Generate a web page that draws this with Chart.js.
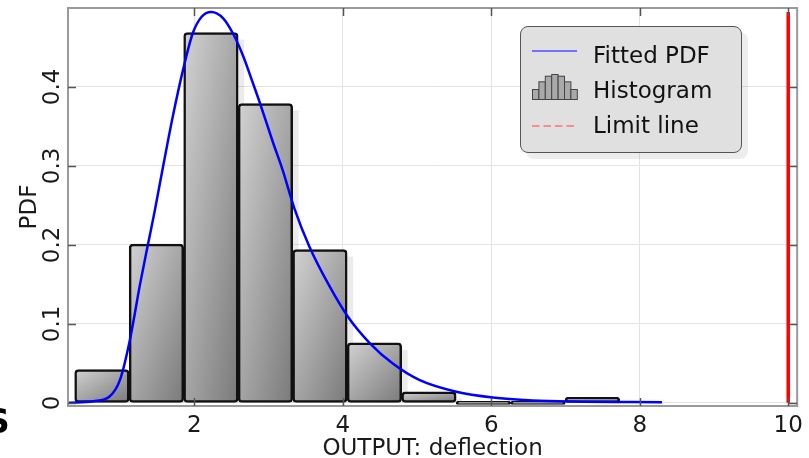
<!DOCTYPE html>
<html>
<head>
<meta charset="utf-8">
<script src="https://cdn.jsdelivr.net/npm/chart.js"></script>
<style>
  body { margin: 0; background: #fff; }
  #wrap { position: relative; width: 809px; height: 458px; overflow: hidden; font-family: 'DejaVu Sans', sans-serif; }
  #grafico { position: absolute; left: 0; top: 0; }
  .lg { position: absolute; font-size: 23px; line-height: 23px; color: #111; white-space: nowrap; }
  #legenda { position: absolute; left: 520px; top: 26px; width: 222px; height: 127px; box-sizing: border-box;
    border: 1px solid #555; border-radius: 8px; background: #e0e0e0; box-shadow: 6px 6px 0 rgba(0,0,0,0.07); }
  #letra { position: absolute; left: -14px; top: 405px; font: bold 33px 'DejaVu Sans', sans-serif; line-height: 33px; color: #000; }
</style>
</head>
<body>
<div id="wrap">
  <canvas id="grafico" width="809" height="458"></canvas>
  <div id="legenda"></div>
  <svg style="position:absolute;left:532px;top:46px" width="46" height="10"><line x1="0" y1="5" x2="45" y2="5" stroke="#7272ff" stroke-width="2"/></svg>
  <svg style="position:absolute;left:531px;top:73px" width="48" height="28">
    <g fill="#a9a9a9" stroke="#444" stroke-width="1">
      <rect x="1.5" y="16.5" width="6.4" height="10"/>
      <rect x="7.9" y="8.8" width="6.4" height="17.7"/>
      <rect x="14.3" y="3.2" width="6.4" height="23.3"/>
      <rect x="20.7" y="1.5" width="6.4" height="25"/>
      <rect x="27.1" y="3.2" width="6.4" height="23.3"/>
      <rect x="33.5" y="8.8" width="6.4" height="17.7"/>
      <rect x="39.9" y="16.5" width="6.4" height="10"/>
    </g>
  </svg>
  <svg style="position:absolute;left:532px;top:121px" width="46" height="10"><line x1="0" y1="5" x2="45" y2="5" stroke="#ff7272" stroke-width="1.5" stroke-dasharray="7.5 4"/></svg>
  <span class="lg" style="left:593px;top:44px">Fitted PDF</span>
  <span class="lg" style="left:593px;top:79px">Histogram</span>
  <span class="lg" style="left:593px;top:114px">Limit line</span>
  <span id="letra">S</span>
</div>
<script>
// bordas dos intervalos do histograma e alturas (densidade)
const binEdges = [0.39, 1.124, 1.858, 2.592, 3.326, 4.06, 4.794, 5.528, 6.262, 6.996, 7.73];
const histValues = [0.042, 0.201, 0.469, 0.379, 0.194, 0.076, 0.014, 0, 0, 0.007];

// curva ajustada
const pdfX = [0.3, 0.64, 0.86, 1.0, 1.13, 1.27, 1.38, 1.47, 1.58, 1.71, 1.85, 1.98, 2.1, 2.23, 2.39, 2.52, 2.66, 2.79, 2.88, 3.06, 3.19, 3.35, 3.55, 3.82, 4.07, 4.36, 4.67, 5.03, 5.53, 6.02, 6.56, 7.1, 8.3];
const pdfY = [0, 0.002, 0.008, 0.029, 0.078, 0.15, 0.202, 0.244, 0.299, 0.362, 0.422, 0.468, 0.489, 0.495, 0.487, 0.468, 0.439, 0.405, 0.381, 0.33, 0.295, 0.246, 0.198, 0.148, 0.109, 0.076, 0.05, 0.029, 0.014, 0.0067, 0.003, 0.0016, 0.0008];

// linha limite
const limitX = [10, 10];
const limitY = [0, 0.495];

const xTicks = [2, 4, 6, 8, 10];
const yTicks = [0, 0.1, 0.2, 0.3, 0.4];
const yTickLabels = ['0', '0.1', '0.2', '0.3', '0.4'];

const fonte = "'DejaVu Sans', sans-serif";

// degrade em diagonal, como nas barras do original
function gradienteBarra(c2d, l, t, w, h) {
    const k = 2 * w * h / (w * w + h * h);
    const g = c2d.createLinearGradient(l, t, l + h * k, t + w * k);
    g.addColorStop(0, '#d2d2d2');
    g.addColorStop(1, '#7a7a7a');
    return g;
}

const moldura = {
    id: 'moldura',
    beforeDatasetsDraw(chart) {
        const ctx = chart.ctx;
        const meta = chart.getDatasetMeta(0);
        ctx.save();
        ctx.fillStyle = 'rgba(0,0,0,0.08)';
        meta.data.forEach(bar => {
            const p = bar.getProps(['x', 'y', 'base', 'width'], true);
            const l = p.x - p.width / 2;
            const t = Math.min(p.y, p.base);
            const h = Math.max(Math.abs(p.base - p.y), 3);
            if (isFinite(l) && isFinite(t)) bar.options.backgroundColor = gradienteBarra(ctx, l, t, p.width, h);
            if (h - 7 > 0) ctx.fillRect(l + 6, t + 7, p.width, h - 7);
        });
        ctx.restore();
    },
    afterDatasetsDraw(chart) {
        const ctx = chart.ctx, a = chart.chartArea;
        const xs = chart.scales.x, ys = chart.scales.y;
        ctx.save();
        ctx.strokeStyle = '#9a9a9a';
        ctx.lineWidth = 2;
        ctx.strokeRect(a.left, a.top, a.right - a.left, a.bottom - a.top);
        ctx.strokeStyle = '#555';
        ctx.lineWidth = 1.5;
        ctx.beginPath();
        xTicks.forEach(v => {
            const px = Math.round(xs.getPixelForValue(v)) + 0.5;
            ctx.moveTo(px, a.bottom); ctx.lineTo(px, a.bottom - 8);
            ctx.moveTo(px, a.top); ctx.lineTo(px, a.top + 8);
        });
        yTicks.forEach(v => {
            const py = Math.round(ys.getPixelForValue(v)) + 0.5;
            ctx.moveTo(a.left, py); ctx.lineTo(a.left + 8, py);
            ctx.moveTo(a.right, py); ctx.lineTo(a.right - 8, py);
        });
        ctx.stroke();
        // rotulos do eixo y (girados)
        ctx.fillStyle = '#1a1a1a';
        ctx.font = '23px ' + fonte;
        ctx.textAlign = 'center';
        ctx.textBaseline = 'middle';
        yTicks.forEach((v, i) => {
            ctx.save();
            ctx.translate(53, ys.getPixelForValue(v));
            ctx.rotate(-Math.PI / 2);
            ctx.fillText(yTickLabels[i], 0, 0);
            ctx.restore();
        });
        ctx.restore();
    }
};

const ctx = document.getElementById('grafico');

new Chart(ctx, {
    type: 'bar',
    data: {
        datasets: [{
            type: 'bar',
            label: 'Histogram',
            data: histValues.map((v, i) => ({ x: (binEdges[i] + binEdges[i + 1]) / 2, y: v })),
            backgroundColor: c => '#aaaaaa',
            borderColor: '#111',
            borderWidth: 2.5,
            borderRadius: 4,
            borderSkipped: false,
            barPercentage: 1,
            categoryPercentage: 1,
            minBarLength: 3,
            order: 3
        }, {
            type: 'line',
            label: 'Fitted PDF',
            data: pdfX.map((x, i) => ({ x: x, y: pdfY[i] })),
            borderColor: '#0000ff',
            borderWidth: 2.5,
            pointRadius: 0,
            fill: false,
            cubicInterpolationMode: 'monotone',
            order: 1
        }, {
            type: 'line',
            label: 'Limit line',
            data: limitX.map((x, i) => ({ x: x, y: limitY[i] })),
            borderColor: '#ff0000',
            borderWidth: 3.5,
            pointRadius: 0,
            fill: false,
            order: 0
        }]
    },
    options: {
        responsive: false,
        animation: false,
        devicePixelRatio: 1,
        layout: { padding: { top: 8, right: 11, left: 0, bottom: 0 } },
        plugins: { legend: { display: false }, tooltip: { enabled: false } },
        scales: {
            x: {
                type: 'linear',
                min: 0.3,
                max: 10.12,
                offset: false,
                grid: { offset: false, color: '#e3e3e3', lineWidth: 1, drawTicks: false },
                border: { display: false },
                ticks: { font: { family: fonte, size: 23 }, color: '#1a1a1a', padding: 6, maxRotation: 0, autoSkip: false },
                afterBuildTicks: s => { s.ticks = xTicks.map(v => ({ value: v })); },
                afterFit: s => { s.height = 52; },
                title: { display: true, text: 'OUTPUT: deflection', color: '#1a1a1a',
                    font: { family: fonte, size: 23, lineHeight: 0.8 }, padding: { top: 0, bottom: 0 } }
            },
            y: {
                type: 'linear',
                min: -0.004,
                max: 0.5,
                grid: { color: '#e3e3e3', lineWidth: 1, drawTicks: false },
                border: { display: false },
                ticks: { display: false },
                afterBuildTicks: s => { s.ticks = yTicks.map(v => ({ value: v })); },
                afterFit: s => { s.width = 68; },
                title: { display: true, text: 'PDF', color: '#1a1a1a',
                    font: { family: fonte, size: 23 }, padding: { top: 16, bottom: 0 } }
            }
        }
    },
    plugins: [moldura]
});
</script>
</body>
</html>
